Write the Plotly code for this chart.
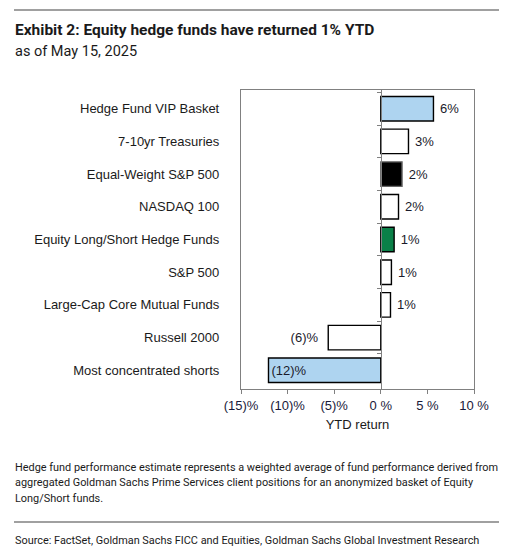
import plotly.graph_objects as go

# data read from the exhibit
categories = ['Hedge Fund VIP Basket', '7-10yr Treasuries', 'Equal-Weight S&P 500', 'NASDAQ 100',
              'Equity Long/Short Hedge Funds', 'S&P 500', 'Large-Cap Core Mutual Funds',
              'Russell 2000', 'Most concentrated shorts']
ytd_return = [5.65, 2.97, 2.28, 1.9, 1.43, 1.14, 1.04, -5.64, -12.05]
bar_labels = ['6%', '3%', '2%', '2%', '1%', '1%', '1%', '(6)%', '(12)%']
tick_vals = [-15, -10, -5, 0, 5, 10]
tick_text = ['(15)%', '(10)%', '(5)%', '0 %', '5 %', '10 %']

fill_colors = ['#aed4f0', 'white', 'black', 'white', '#0a8048', 'white', 'white', 'white', '#aed4f0']
line_colors = ['black', 'black', '#666666', 'black', 'black', 'black', 'black', 'black', 'black']
text_pos = ['outside'] * 8 + ['inside']

footnote_lines = [
    'Hedge fund performance estimate represents a weighted average of fund performance derived from',
    'aggregated Goldman Sachs Prime Services client positions for an anonymized basket of Equity',
    'Long/Short funds.',
]
source_text = 'Source: FactSet, Goldman Sachs FICC and Equities, Goldman Sachs Global Investment Research'

# pad the outside labels a little away from the bar ends
nb = '\u00a0'
shown_labels = []
for v, t, p in zip(ytd_return, bar_labels, text_pos):
    if p == 'inside':
        shown_labels.append(t)
    elif v >= 0:
        shown_labels.append(nb + t)
    else:
        shown_labels.append(t + nb + nb)

W, H = 507, 552
L, R, T, B = 241, 33, 90, 163
PW, PH = W - L - R, H - T - B


def px_x(x):
    return (x - L) / PW


def px_y(y):
    return (H - B - y) / PH


fig = go.Figure()

fig.add_trace(go.Bar(
    x=ytd_return, y=categories, orientation='h',
    marker=dict(color=fill_colors, line=dict(color=line_colors, width=1.4)),
    text=shown_labels, textposition=text_pos, insidetextanchor='end',
    textfont=dict(family='Liberation Sans, Arial, sans-serif', size=13, color='#1a1a2a'),
    cliponaxis=False, hoverinfo='skip', showlegend=False))

# invisible trace so the zero-line axis with boundary ticks can be drawn
fig.add_trace(go.Scatter(
    x=[0] * len(categories), y=categories, yaxis='y2', mode='markers',
    marker=dict(opacity=0), hoverinfo='skip', showlegend=False))

axis_font = dict(family='Liberation Sans, Arial, sans-serif', size=13, color='#1a1a1a')

fig.update_layout(
    width=W, height=H,
    margin=dict(l=L, r=R, t=T, b=B),
    paper_bgcolor='white', plot_bgcolor='white',
    bargap=0.25,
    xaxis=dict(range=[-15, 10], tickvals=tick_vals, ticktext=tick_text,
               showgrid=False, zeroline=False, showline=True, mirror=True,
               linecolor='#808080', linewidth=1.3, ticks='outside', ticklen=4,
               tickcolor='#808080', tickfont=dict(axis_font, color='#1a1a3a'),
               title=dict(text='YTD return', font=axis_font, standoff=8)),
    yaxis=dict(categoryorder='array', categoryarray=categories, autorange='reversed',
               showgrid=False, zeroline=False, showline=True, mirror=True,
               linecolor='#808080', linewidth=1.3, ticks='', ticklabelstandoff=18,
               tickfont=axis_font),
    yaxis2=dict(overlaying='y', anchor='free', position=0.6, matches='y',
                showgrid=False, zeroline=False, showline=True, linecolor='#808080',
                linewidth=1.3, ticks='outside', ticklen=4, tickcolor='#808080',
                tickson='boundaries', showticklabels=False),
    font=dict(family='Liberation Sans, Arial, sans-serif', color='#1a1a1a'),
)

narrow = 'Roboto, Liberation Sans, sans-serif'

fig.add_annotation(text='<b>Exhibit 2: Equity hedge funds have returned 1% YTD</b>',
                   xref='paper', yref='paper', x=px_x(13), y=px_y(30),
                   xanchor='left', yanchor='middle', showarrow=False,
                   font=dict(family=narrow, size=15.5, color='#1a1a1a'))
fig.add_annotation(text='as of May 15, 2025',
                   xref='paper', yref='paper', x=px_x(13), y=px_y(51),
                   xanchor='left', yanchor='middle', showarrow=False,
                   font=dict(family=narrow, size=14.5, color='#1a1a1a'))
for i, line in enumerate(footnote_lines):
    fig.add_annotation(text=line, xref='paper', yref='paper', x=px_x(13), y=px_y(467 + 15.5 * i),
                       xanchor='left', yanchor='middle', showarrow=False,
                       font=dict(family=narrow, size=10.9, color='#1a1a1a'))
fig.add_annotation(text=source_text,
                   xref='paper', yref='paper', x=px_x(13), y=px_y(540),
                   xanchor='left', yanchor='middle', showarrow=False,
                   font=dict(family=narrow, size=10.9, color='#1a1a1a'))

# rule lines at top and above the source
for yy in (10, 522):
    fig.add_shape(type='line', xref='paper', yref='paper',
                  x0=px_x(14), x1=px_x(499), y0=px_y(yy), y1=px_y(yy),
                  line=dict(color='#808080', width=1.3))

fig.write_html('out.html', config={'displayModeBar': False},
               post_script="document.body.style.margin='0';")
